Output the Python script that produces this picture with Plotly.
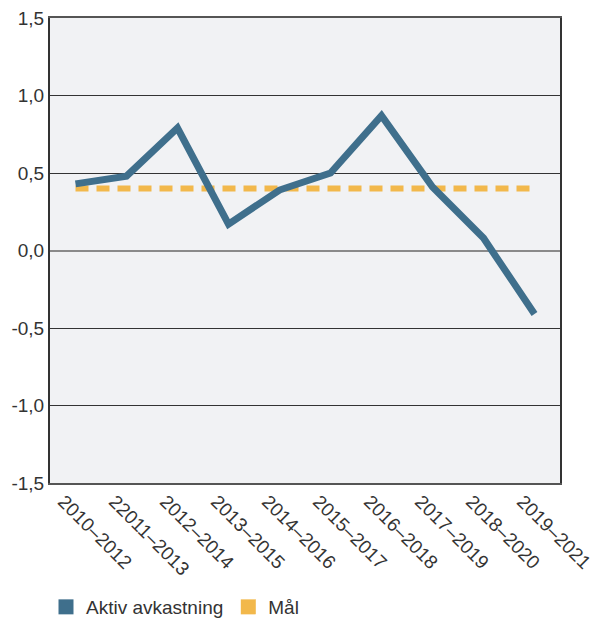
import plotly.graph_objects as go

periods = ["2010–2012", "22011–2013", "2012–2014", "2013–2015", "2014–2016",
           "2015–2017", "2016–2018", "2017–2019", "2018–2020", "2019–2021"]
aktiv_avkastning = [0.43, 0.48, 0.79, 0.17, 0.39, 0.50, 0.87, 0.41, 0.08, -0.41]
mal = [0.40] * len(periods)

y_ticks = [-1.5, -1.0, -0.5, 0.0, 0.5, 1.0, 1.5]
y_tick_text = ["-1,5", "-1,0", "-0,5", "0,0", "0,5", "1,0", "1,5"]

BLUE = "#3f6f8c"
ORANGE = "#f2b84b"
FONT = "Liberation Sans, Arial, sans-serif"

fig = go.Figure()

fig.add_trace(go.Scatter(
    x=periods, y=mal, mode="lines", showlegend=False,
    line=dict(color=ORANGE, width=6, dash="13px,8px"),
))
fig.add_trace(go.Scatter(
    x=periods, y=aktiv_avkastning, mode="lines", showlegend=False,
    line=dict(color=BLUE, width=7),
))

# square legend keys
for name, color in [("Aktiv avkastning", BLUE), ("Mål", ORANGE)]:
    fig.add_trace(go.Scatter(
        x=[None], y=[None], mode="markers", name=name,
        marker=dict(symbol="square", size=15, color=color),
    ))

fig.update_layout(
    width=606, height=619,
    margin=dict(l=50, r=46, t=18, b=136, autoexpand=False),
    paper_bgcolor="white",
    plot_bgcolor="#f1f2f4",
    font=dict(family=FONT, size=19, color="#333333"),
    legend=dict(orientation="h", x=46 / 606, xanchor="left",
                xref="container", yref="container",
                y=(619 - 607) / 619, yanchor="middle",
                font=dict(size=19, color="#333333"), itemwidth=30,
                tracegroupgap=0),
)

fig.update_xaxes(
    type="category", range=[-0.5, 9.5], tickangle=45, automargin=False,
    showgrid=False, ticks="", showline=True, linecolor="#555555", linewidth=2,
    mirror=True, tickfont=dict(size=19, color="#333333"),
    ticklabelshift=-12, ticklabelstandoff=-2,
)
fig.update_yaxes(
    range=[-1.5, 1.5], tickvals=y_ticks, ticktext=y_tick_text, automargin=False,
    showgrid=True, gridcolor="#333333", gridwidth=1,
    zeroline=True, zerolinecolor="#8a8a8a", zerolinewidth=2,
    showline=True, linecolor="#333333", linewidth=2, mirror=True,
    ticks="", tickfont=dict(size=19, color="#333333"),
)

fig.write_html("out.html")
